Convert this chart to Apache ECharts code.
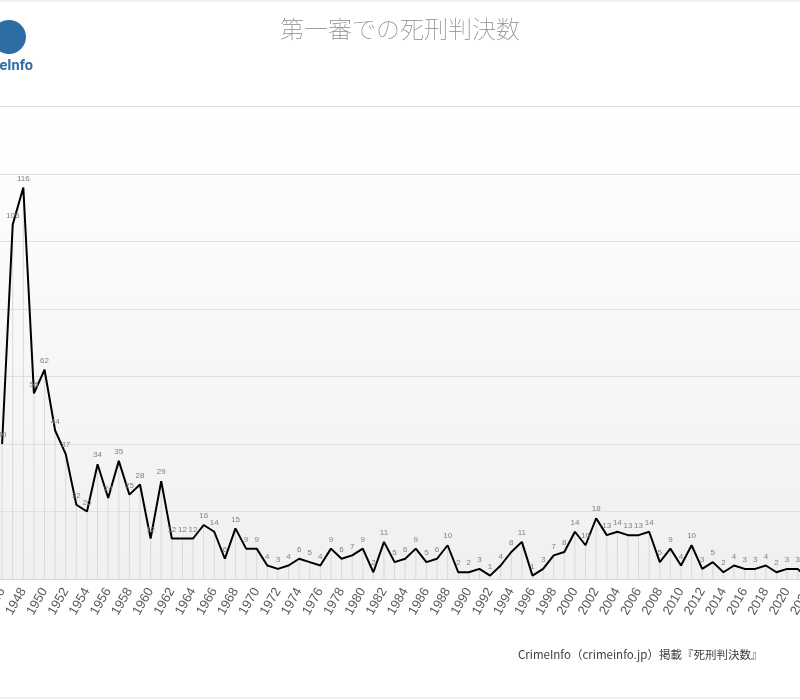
<!DOCTYPE html>
<html>
<head>
<meta charset="utf-8">
<script src="https://cdn.jsdelivr.net/npm/echarts@6/dist/echarts.min.js"></script>
<style>
html,body{margin:0;padding:0;background:#fff;}
#chart{width:800px;height:700px;}
</style>
</head>
<body>
<div id="chart"></div>
<script>
var years = [];
for (var y = 1946; y <= 2022; y++) years.push(String(y));
var sentences = [
  40, 105, 116, 55, 62, 44, 37, 22, 20, 34,
  24, 35, 25, 28, 12, 29, 12, 12, 12, 16,
  14, 6, 15, 9, 9, 4, 3, 4, 6, 5,
  4, 9, 6, 7, 9, 2, 11, 5, 6, 9,
  5, 6, 10, 2, 2, 3, 1, 4, 8, 11,
  1, 3, 7, 8, 14, 10, 18, 13, 14, 13,
  13, 14, 5, 9, 4, 10, 3, 5, 2, 4,
  3, 3, 4, 2, 3, 3, 0
];
var titleText = '第一審での死刑判決数';
var sourceText = 'CrimeInfo（crimeinfo.jp）掲載『死刑判決数』';
var logoText = 'CrimeInfo';
var yTicks = {min: 0, max: 140, interval: 20};

var chart = echarts.init(document.getElementById('chart'), null, {renderer: 'canvas'});
var option = {
  backgroundColor: '#ffffff',
  animation: false,
  title: {
    text: titleText,
    left: 'center',
    top: 12,
    textStyle: {
      fontFamily: 'Noto Sans CJK JP',
      fontSize: 24,
      fontWeight: 'lighter',
      color: '#8a8a8a'
    }
  },
  graphic: [
    {type: 'rect', shape: {x: -10, y: 1, width: 820, height: 697}, style: {fill: 'none', stroke: '#e3e3e3', lineWidth: 1}, silent: true, z: -10},
    {type: 'circle', shape: {cx: 9, cy: 37, r: 17}, style: {fill: '#2e6da4'}, silent: true},
    {type: 'text', x: 33, y: 59, style: {text: logoText, fill: '#2e6da4', font: 'bold 14.5px Roboto', textAlign: 'right'}, silent: true},
    {type: 'text', x: 518, y: 649, style: {text: sourceText, fill: '#404040', font: '11.5px "Noto Sans CJK JP"'}, silent: true}
  ],
  grid: {
    left: -3.2,
    top: 106.5,
    width: 816.8,
    height: 472.5,
    outerBoundsMode: 'none',
    containLabel: false,
    show: true,
    borderWidth: 0,
    backgroundColor: new echarts.graphic.LinearGradient(0, 0, 0, 1, [
      {offset: 0, color: '#ffffff'},
      {offset: 1, color: '#f0f0f0'}
    ])
  },
  xAxis: {
    type: 'category',
    data: years,
    boundaryGap: true,
    axisLine: {show: true, lineStyle: {color: '#d9d9d9', width: 1}},
    axisTick: {show: false},
    axisLabel: {
      interval: 1,
      rotate: 60,
      margin: 10,
      fontSize: 13,
      color: '#595959',
      fontFamily: 'Liberation Sans'
    },
    splitLine: {show: false}
  },
  yAxis: {
    type: 'value',
    min: yTicks.min,
    max: yTicks.max,
    interval: yTicks.interval,
    axisLine: {show: false},
    axisTick: {show: false},
    axisLabel: {show: false},
    splitLine: {show: true, lineStyle: {color: '#e0e0e0', width: 1}}
  },
  series: [
    {
      type: 'bar',
      data: sentences,
      barWidth: 1,
      silent: true,
      itemStyle: {color: '#d9d9d9'},
      z: 1
    },
    {
      type: 'line',
      data: sentences,
      symbol: 'circle',
      symbolSize: 0,
      showSymbol: true,
      lineStyle: {color: '#000000', width: 2},
      itemStyle: {color: '#000000'},
      label: {
        show: true,
        position: 'top',
        distance: 5,
        fontSize: 8,
        color: '#7f7f7f',
        fontFamily: 'Liberation Sans'
      },
      z: 3
    }
  ]
};
chart.setOption(option);
</script>
</body>
</html>
